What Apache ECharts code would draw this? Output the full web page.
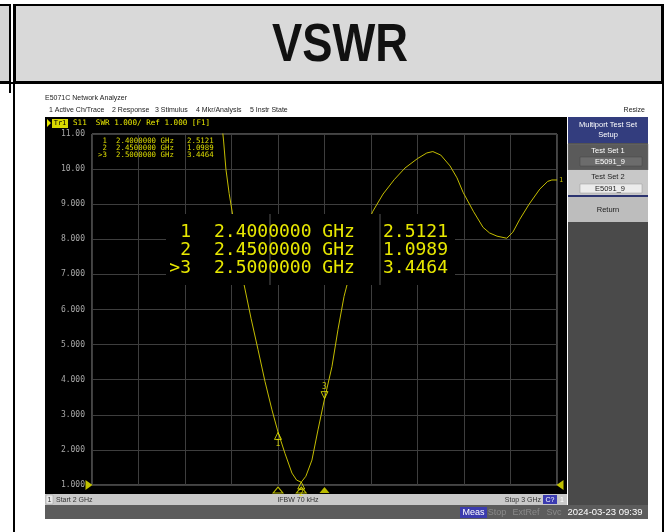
<!DOCTYPE html>
<html>
<head>
<meta charset="utf-8">
<script src="https://cdn.jsdelivr.net/npm/echarts@6/dist/echarts.min.js"></script>
<style>
  html, body { margin: 0; padding: 0; background: #fff; }
  #chart { width: 669px; height: 532px; }
</style>
</head>
<body>
<div id="chart"></div>
<script>
// S11 SWR trace (GHz / VSWR)
const freqGHz = [2.280, 2.283, 2.288, 2.295, 2.303, 2.315, 2.327, 2.342, 2.357, 2.372, 2.387, 2.400,
  2.415, 2.430, 2.440, 2.450, 2.460, 2.473, 2.486, 2.500, 2.516, 2.529, 2.542, 2.560, 2.580, 2.604,
  2.626, 2.650, 2.673, 2.700, 2.720, 2.733, 2.750, 2.770, 2.785, 2.798, 2.820, 2.841, 2.855, 2.871,
  2.892, 2.905, 2.920, 2.940, 2.963, 2.980, 2.989, 3.000]
const vswr = [11.2, 10.8, 10.0, 9.30, 8.66, 7.60, 6.71, 5.75, 4.86, 3.95, 3.14, 2.51,
  1.90, 1.34, 1.14, 1.08, 1.25, 1.71, 2.57, 3.45, 4.37, 5.43, 6.37, 7.30, 8.10, 8.80,
  9.29, 9.70, 10.03, 10.30, 10.46, 10.50, 10.40, 10.09, 9.75, 9.34, 8.80, 8.34, 8.18, 8.09,
  8.03, 8.20, 8.57, 9.00, 9.43, 9.65, 9.69, 9.69]

// markers
const markerNo = ['1', '2', '3']
const markerFreq = [2.40, 2.45, 2.50]
const markerVswr = [2.5121, 1.0989, 3.4464]
const activeMarker = 2

// stimulus / scale
const startGHz = 2
const stopGHz = 3
const refLevel = 1.000
const yMin = 1
const yMax = 11

const mono = '"DejaVu Sans Mono", monospace'
const ui = '"Liberation Sans", "DejaVu Sans", sans-serif'
const yellow = '#e8e800'

const chart = echarts.init(document.getElementById('chart'))

const markerRow = i => ({
  label: (i === activeMarker ? '>' : '') + markerNo[i],
  freq: markerFreq[i].toFixed(7) + ' GHz',
  val: markerVswr[i].toFixed(4)
})

const graphic = []
// page frame and title banner
graphic.push(
  {type: 'rect', z: -5, shape: {x: 15, y: 5, width: 647, height: 77}, style: {fill: '#d9d9d9', stroke: '#000', lineWidth: 2}},
  {type: 'rect', z: -5, shape: {x: -2, y: 5, width: 12, height: 77}, style: {fill: '#d4d4d4', stroke: '#000', lineWidth: 2}},
  {type: 'line', z: -4, shape: {x1: 0, y1: 83, x2: 663, y2: 83}, style: {stroke: '#000', lineWidth: 2}},
  {type: 'line', z: -4, shape: {x1: 10, y1: 4, x2: 10, y2: 93}, style: {stroke: '#000', lineWidth: 2}},
  {type: 'line', z: -4, shape: {x1: 14, y1: 4, x2: 14, y2: 532}, style: {stroke: '#000', lineWidth: 2}},
  {type: 'line', z: -4, shape: {x1: 663, y1: 4, x2: 663, y2: 532}, style: {stroke: '#000', lineWidth: 2}},
  {type: 'text', z: -3, x: 340, y: 46, scaleX: 0.84, style: {text: 'VSWR', fill: '#111', font: 'bold 54px "Liberation Sans", sans-serif', textAlign: 'center', textVerticalAlign: 'middle'}}
)
// analyzer window header
graphic.push(
  {type: 'text', z: -3, x: 45, y: 98, style: {text: 'E5071C Network Analyzer', fill: '#222', font: '7px ' + ui, textVerticalAlign: 'middle'}},
  {type: 'text', z: -3, x: 49, y: 110, style: {text: '1 Active Ch/Trace', fill: '#222', font: '7px ' + ui, textVerticalAlign: 'middle'}},
  {type: 'text', z: -3, x: 112, y: 110, style: {text: '2 Response', fill: '#222', font: '7px ' + ui, textVerticalAlign: 'middle'}},
  {type: 'text', z: -3, x: 155, y: 110, style: {text: '3 Stimulus', fill: '#222', font: '7px ' + ui, textVerticalAlign: 'middle'}},
  {type: 'text', z: -3, x: 196, y: 110, style: {text: '4 Mkr/Analysis', fill: '#222', font: '7px ' + ui, textVerticalAlign: 'middle'}},
  {type: 'text', z: -3, x: 250, y: 110, style: {text: '5 Instr State', fill: '#222', font: '7px ' + ui, textVerticalAlign: 'middle'}},
  {type: 'text', z: -3, x: 645, y: 110, style: {text: 'Resize', fill: '#222', font: '7px ' + ui, textAlign: 'right', textVerticalAlign: 'middle'}}
)
// screen + trace title
graphic.push(
  {type: 'rect', z: -2, shape: {x: 45, y: 117, width: 522, height: 377}, style: {fill: '#000'}},
  {type: 'polygon', z: -1, shape: {points: [[47, 119], [51, 123], [47, 127]]}, style: {fill: yellow}},
  {type: 'rect', z: -1, shape: {x: 52, y: 119, width: 16, height: 9}, style: {fill: '#d8d800'}},
  {type: 'text', z: 0, x: 60, y: 123.5, style: {text: 'Tr1', fill: '#000', font: '7px ' + mono, textAlign: 'center', textVerticalAlign: 'middle'}},
  {type: 'text', z: -1, x: 73, y: 123.5, style: {text: 'S11  SWR 1.000/ Ref 1.000 [F1]', fill: yellow, font: '7.6px ' + mono, textVerticalAlign: 'middle'}}
)
// small marker table (top-left of the grid)
markerNo.forEach((m, i) => {
  const r = markerRow(i)
  const y = 141.5 + i * 6.6
  graphic.push(
    {type: 'text', z: 50, x: 107, y, style: {text: r.label, fill: '#dcdc00', font: '7.4px ' + mono, textAlign: 'right', textVerticalAlign: 'middle'}},
    {type: 'text', z: 50, x: 116, y, style: {text: r.freq, fill: '#dcdc00', font: '7.4px ' + mono, textVerticalAlign: 'middle'}},
    {type: 'text', z: 50, x: 187, y, style: {text: r.val, fill: '#dcdc00', font: '7.4px ' + mono, textVerticalAlign: 'middle'}}
  )
})
// big marker overlay
graphic.push(
  {type: 'rect', z: 90, shape: {x: 166, y: 214, width: 289, height: 71}, style: {fill: '#000'}},
  {type: 'line', z: 91, shape: {x1: 270, y1: 214, x2: 270, y2: 285}, style: {stroke: '#555', lineWidth: 1}},
  {type: 'line', z: 91, shape: {x1: 380, y1: 214, x2: 380, y2: 285}, style: {stroke: '#555', lineWidth: 1}}
)
markerNo.forEach((m, i) => {
  const r = markerRow(i)
  const y = 232 + i * 18
  graphic.push(
    {type: 'text', z: 95, x: 191, y, style: {text: r.label, fill: yellow, font: '18px ' + mono, textAlign: 'right', textVerticalAlign: 'middle'}},
    {type: 'text', z: 95, x: 214, y, style: {text: r.freq, fill: yellow, font: '18px ' + mono, textVerticalAlign: 'middle'}},
    {type: 'text', z: 95, x: 383, y, style: {text: r.val, fill: yellow, font: '18px ' + mono, textVerticalAlign: 'middle'}}
  )
})
// status bars
graphic.push(
  {type: 'rect', z: -2, shape: {x: 45, y: 494, width: 522, height: 11}, style: {fill: '#c9c9c9'}},
  {type: 'rect', z: -1, shape: {x: 46, y: 495, width: 7, height: 9}, style: {fill: '#e8e8e8', stroke: '#999', lineWidth: 0.5}},
  {type: 'text', z: 0, x: 49.5, y: 500, style: {text: '1', fill: '#333', font: '7px ' + ui, textAlign: 'center', textVerticalAlign: 'middle'}},
  {type: 'text', z: 0, x: 56, y: 500, style: {text: 'Start 2 GHz', fill: '#333', font: '7px ' + ui, textVerticalAlign: 'middle'}},
  {type: 'text', z: 0, x: 298, y: 500, style: {text: 'IFBW 70 kHz', fill: '#333', font: '7px ' + ui, textAlign: 'center', textVerticalAlign: 'middle'}},
  {type: 'text', z: 0, x: 541, y: 500, style: {text: 'Stop 3 GHz', fill: '#333', font: '7px ' + ui, textAlign: 'right', textVerticalAlign: 'middle'}},
  {type: 'rect', z: -1, shape: {x: 543, y: 495, width: 14, height: 9}, style: {fill: '#3b3bb0'}},
  {type: 'text', z: 0, x: 550, y: 500, style: {text: 'C?', fill: '#fff', font: '7px ' + ui, textAlign: 'center', textVerticalAlign: 'middle'}},
  {type: 'text', z: 0, x: 562, y: 500, style: {text: '1', fill: '#fff', font: '7px ' + ui, textAlign: 'center', textVerticalAlign: 'middle'}},
  {type: 'rect', z: -2, shape: {x: 45, y: 505, width: 603, height: 14}, style: {fill: '#5c5c5c'}},
  {type: 'rect', z: -1, shape: {x: 460, y: 507, width: 27, height: 11}, style: {fill: '#3c3cae'}},
  {type: 'text', z: 0, x: 473.5, y: 512.5, style: {text: 'Meas', fill: '#fff', font: '9px ' + ui, textAlign: 'center', textVerticalAlign: 'middle'}},
  {type: 'text', z: 0, x: 497, y: 512.5, style: {text: 'Stop', fill: '#8a8a8a', font: '9px ' + ui, textAlign: 'center', textVerticalAlign: 'middle'}},
  {type: 'text', z: 0, x: 526, y: 512.5, style: {text: 'ExtRef', fill: '#8a8a8a', font: '9px ' + ui, textAlign: 'center', textVerticalAlign: 'middle'}},
  {type: 'text', z: 0, x: 554, y: 512.5, style: {text: 'Svc', fill: '#8a8a8a', font: '9px ' + ui, textAlign: 'center', textVerticalAlign: 'middle'}},
  {type: 'text', z: 0, x: 605, y: 512.5, style: {text: '2024-03-23 09:39', fill: '#fff', font: '9.5px ' + ui, textAlign: 'center', textVerticalAlign: 'middle'}}
)
// softkey panel
graphic.push(
  {type: 'rect', z: -2, shape: {x: 568, y: 117, width: 80, height: 388}, style: {fill: '#4a4a4a'}},
  {type: 'rect', z: -1, shape: {x: 568, y: 117, width: 80, height: 26}, style: {fill: '#333d7e'}},
  {type: 'text', z: 0, x: 608, y: 125, style: {text: 'Multiport Test Set', fill: '#fff', font: '7.5px ' + ui, textAlign: 'center', textVerticalAlign: 'middle'}},
  {type: 'text', z: 0, x: 608, y: 135, style: {text: 'Setup', fill: '#fff', font: '7.5px ' + ui, textAlign: 'center', textVerticalAlign: 'middle'}},
  {type: 'rect', z: -1, shape: {x: 568, y: 144, width: 80, height: 26}, style: {fill: '#5a5a5a', stroke: '#777', lineWidth: 0.5}},
  {type: 'text', z: 0, x: 608, y: 151, style: {text: 'Test Set 1', fill: '#fff', font: '7.5px ' + ui, textAlign: 'center', textVerticalAlign: 'middle'}},
  {type: 'rect', z: 0, shape: {x: 580, y: 157, width: 62, height: 9}, style: {fill: '#6c6c6c', stroke: '#444', lineWidth: 0.5}},
  {type: 'text', z: 1, x: 610, y: 161.5, style: {text: 'E5091_9', fill: '#fff', font: '7.5px ' + ui, textAlign: 'center', textVerticalAlign: 'middle'}},
  {type: 'rect', z: -1, shape: {x: 568, y: 170, width: 80, height: 25}, style: {fill: '#c8c8c8'}},
  {type: 'text', z: 0, x: 608, y: 177, style: {text: 'Test Set 2', fill: '#222', font: '7.5px ' + ui, textAlign: 'center', textVerticalAlign: 'middle'}},
  {type: 'rect', z: 0, shape: {x: 580, y: 184, width: 62, height: 9}, style: {fill: '#ececec', stroke: '#999', lineWidth: 0.5}},
  {type: 'text', z: 1, x: 610, y: 188.5, style: {text: 'E5091_9', fill: '#222', font: '7.5px ' + ui, textAlign: 'center', textVerticalAlign: 'middle'}},
  {type: 'rect', z: -1, shape: {x: 568, y: 195, width: 80, height: 2}, style: {fill: '#2c3470'}},
  {type: 'rect', z: -1, shape: {x: 568, y: 197, width: 80, height: 25}, style: {fill: '#bdbdbd'}},
  {type: 'text', z: 0, x: 608, y: 209.5, style: {text: 'Return', fill: '#222', font: '7.5px ' + ui, textAlign: 'center', textVerticalAlign: 'middle'}}
)

const option = {
  backgroundColor: '#fff',
  animation: false,
  graphic: graphic,
  grid: {left: 92, top: 134, width: 465, height: 351, show: true, borderColor: '#8a8a8a', borderWidth: 1, backgroundColor: 'transparent'},
  xAxis: {
    type: 'value', min: startGHz, max: stopGHz, interval: 0.1,
    axisLine: {show: false}, axisTick: {show: false}, axisLabel: {show: false},
    splitLine: {lineStyle: {color: '#3e3e3e', width: 1}}
  },
  yAxis: {
    type: 'value', min: yMin, max: yMax, interval: 1,
    axisLine: {show: false}, axisTick: {show: false},
    axisLabel: {
      margin: 7,
      fontFamily: mono, fontSize: 8,
      color: v => (v === refLevel ? yellow : '#a8a8a8'),
      formatter: v => (v >= 10 ? v.toFixed(2) : v.toFixed(3))
    },
    splitLine: {lineStyle: {color: '#3e3e3e', width: 1}}
  },
  series: [
    {
      name: 'S11 SWR',
      type: 'line',
      data: freqGHz.map((f, i) => [f, vswr[i]]),
      showSymbol: false,
      clip: true,
      z: 3,
      lineStyle: {color: '#c4bd00', width: 1},
      endLabel: {show: true, formatter: '1', color: '#c4bd00', fontSize: 7, fontFamily: mono, distance: 2}
    },
    {
      name: 'markers',
      type: 'scatter',
      z: 4,
      clip: false,
      data: markerFreq.map((f, i) => ({
        value: [f, markerVswr[i]],
        symbol: 'triangle',
        symbolRotate: i === activeMarker ? 180 : 0,
        symbolOffset: i === activeMarker ? [0, -4] : [0, 4],
        label: {show: true, formatter: markerNo[i], position: i === activeMarker ? 'top' : 'bottom', distance: 0}
      })),
      symbolSize: [7, 7],
      itemStyle: {color: 'rgba(0,0,0,0)', borderColor: yellow, borderWidth: 1},
      label: {color: yellow, fontSize: 8, fontFamily: mono}
    },
    {
      name: 'stimulus markers',
      type: 'scatter',
      z: 4,
      clip: false,
      data: markerFreq.map((f, i) => ({
        value: [f, yMin],
        itemStyle: i === activeMarker ? {color: yellow} : {color: 'rgba(0,0,0,0)', borderColor: yellow, borderWidth: 1}
      })),
      symbol: 'triangle',
      symbolSize: [10, 6],
      symbolOffset: [0, 5]
    },
    {
      name: 'ref level',
      type: 'scatter',
      z: 4,
      clip: false,
      data: [
        {value: [startGHz, refLevel], symbolRotate: -90, symbolOffset: [-3, 0]},
        {value: [stopGHz, refLevel], symbolRotate: 90, symbolOffset: [3, 0]}
      ],
      symbol: 'triangle',
      symbolSize: [10, 7],
      itemStyle: {color: '#f0f000'}
    }
  ]
}
chart.setOption(option)
</script>
</body>
</html>
